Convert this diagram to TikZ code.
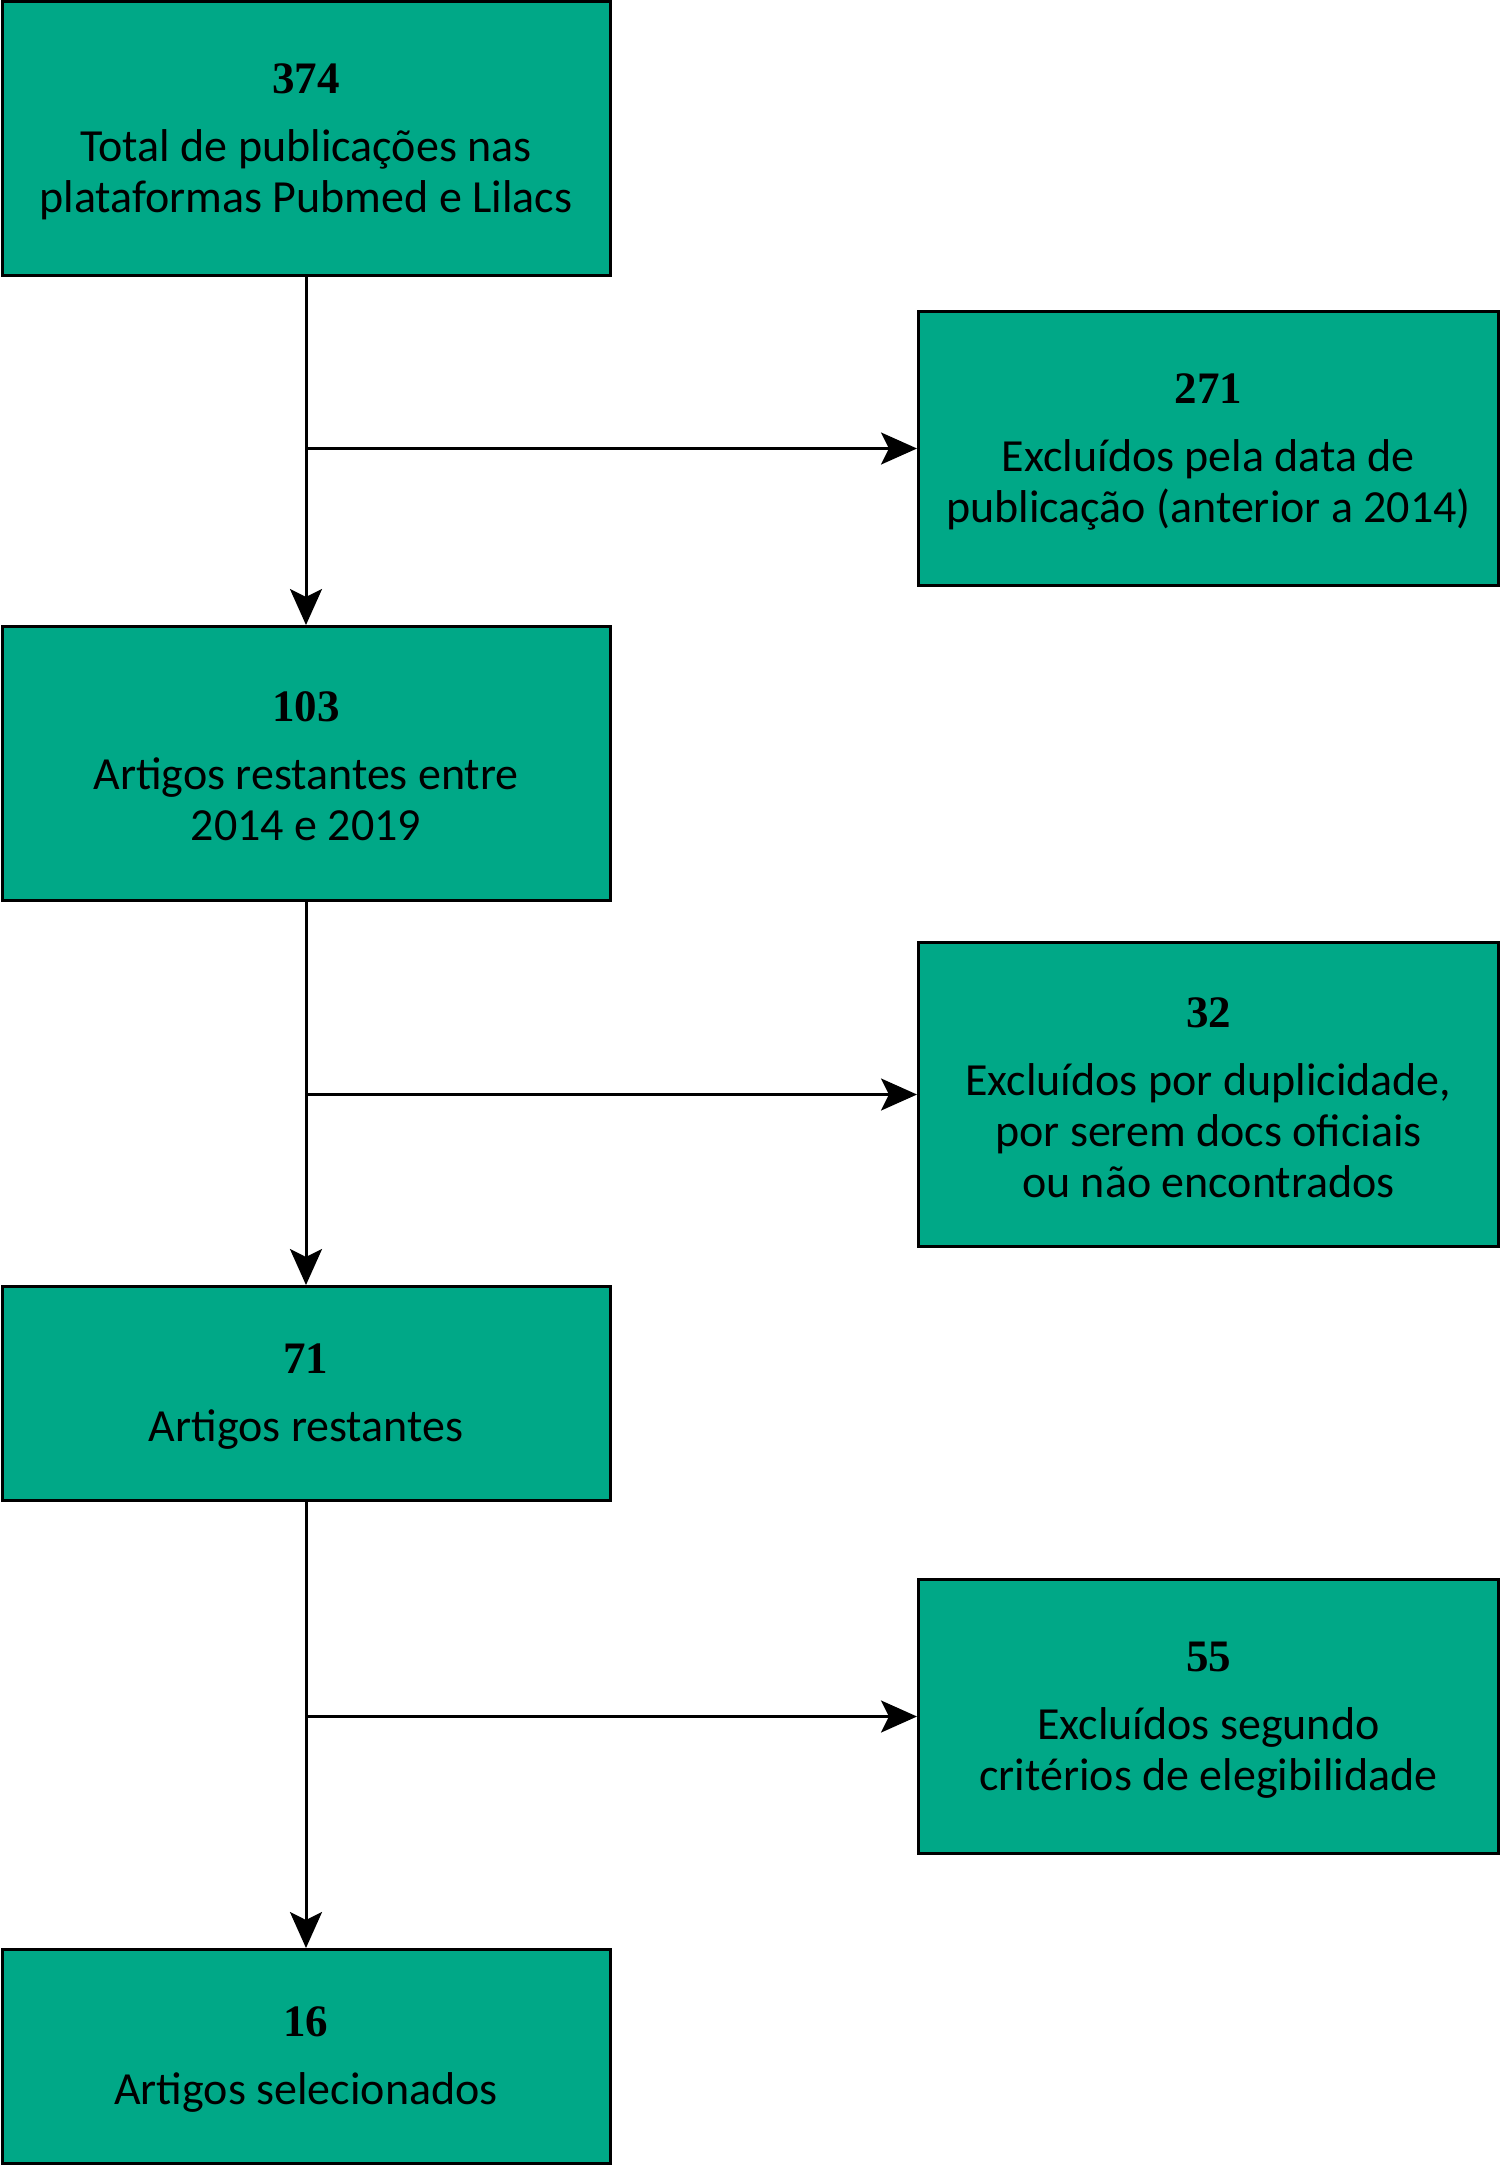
\documentclass[tikz,border=0pt]{standalone}
\usepackage{fontspec}
\setmainfont{Carlito}
\newfontfamily\numfont{Liberation Serif}
\usetikzlibrary{positioning,arrows.meta}
\definecolor{boxgreen}{RGB}{0,168,135}
\newcommand{\stagenum}[1]{{\numfont\bfseries\fontsize{22.5}{26}\selectfont\rule{0pt}{18pt}#1}\\[8.5pt]}

\begin{document}
\begin{tikzpicture}[
			stage/.style={rectangle, draw, fill=boxgreen, line width=1.5pt, align=center, inner sep=0pt, minimum width=304pt, minimum height=137pt, font=\fontsize{23}{25.5}\selectfont},
			excl/.style={stage, minimum width=290pt},
			flow/.style={->, line width=1.5pt},
			>={Stealth[length=18pt, width=16pt, inset=4pt]}
			]
			\useasboundingbox (0,0) rectangle (750pt,-1082.5pt);
			\node[stage] (b374) at (153pt,-69.25pt) {\stagenum{374}Total de publicações nas\\plataformas Pubmed e Lilacs};
			\node[stage, below=174pt of b374] (b103) {\stagenum{103}Artigos restantes entre\\2014 e 2019};
			\node[stage, minimum height=107pt, below=191.5pt of b103] (b71) {\stagenum{71}Artigos restantes};
			\node[stage, minimum height=107pt, below=223pt of b71] (b16) {\stagenum{16}Artigos selecionados};
			
			\node[excl] (b271) at (604.25pt,-224.25pt) {\stagenum{271}Excluídos pela data de\\publicação (anterior a 2014)};
			\node[excl, minimum height=152pt] (b32) at (604.25pt,-547.25pt) {\stagenum{32}Excluídos por duplicidade,\\por serem docs oficiais\\ou não encontrados};
			\node[excl] (b55) at (604.25pt,-858.25pt) {\stagenum{55}Excluídos segundo\\critérios de elegibilidade};
			
			\draw[flow] (b374) to (b103);
			\draw[flow] (b103) to (b71);
			\draw[flow] (b71) to (b16);
			
			\draw[flow] (b374.south |- b271.west) to (b271.west);
			\draw[flow] (b103.south |- b32.west) to (b32.west);
			\draw[flow] (b71.south |- b55.west) to (b55.west);
			\end{tikzpicture}
\end{document}
